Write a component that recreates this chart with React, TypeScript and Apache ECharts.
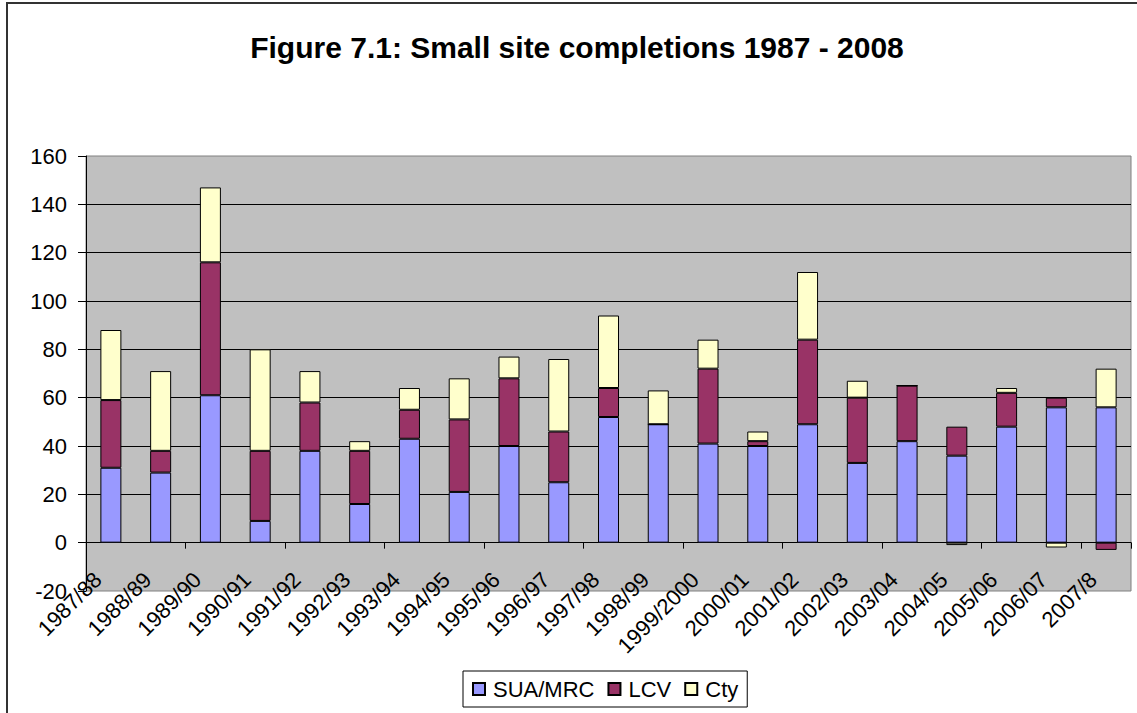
import React, { useEffect, useRef } from "react";
import * as echarts from "echarts";

const categories = [
  "1987/88", "1988/89", "1989/90", "1990/91", "1991/92", "1992/93", "1993/94",
  "1994/95", "1995/96", "1996/97", "1997/98", "1998/99", "1999/2000", "2000/01",
  "2001/02", "2002/03", "2003/04", "2004/05", "2005/06", "2006/07", "2007/8",
];
const suaMrc = [31, 29, 61, 9, 38, 16, 43, 21, 40, 25, 52, 49, 41, 40, 49, 33, 42, 36, 48, 56, 56];
const lcv = [28, 9, 55, 29, 20, 22, 12, 30, 28, 21, 12, 0, 31, 2, 35, 27, 23, 12, 14, 4, -3];
const cty = [29, 33, 31, 42, 13, 4, 9, 17, 9, 30, 30, 14, 12, 4, 28, 7, 0, -1, 2, -2, 16];

const titleText = "Figure 7.1: Small site completions 1987 - 2008";
const FONT = "'Liberation Sans', Arial, sans-serif";

export default function App() {
  const ref = useRef<HTMLDivElement>(null);
  useEffect(() => {
    if (!ref.current) return;
    const chart = echarts.init(ref.current, null, { renderer: "svg" });
    const barStyle = (color: string) => ({ color, borderColor: "#000", borderWidth: 1 });
    const labelShift = 13;
    chart.setOption({
      animation: false,
      backgroundColor: "#fff",
      textStyle: { fontFamily: FONT },
      graphic: [
        {
          type: "rect",
          shape: { x: 7, y: 3, width: 1150, height: 730 },
          style: { fill: "none", stroke: "#333", lineWidth: 2 },
          silent: true,
        },
        {
          type: "text",
          x: 577,
          y: 47,
          style: {
            text: titleText,
            fill: "#000",
            fontSize: 30,
            fontWeight: "bold",
            fontFamily: FONT,
            align: "center",
            verticalAlign: "middle",
          },
        },
      ],
      grid: [
        {
          left: 86,
          right: 6,
          top: 156,
          bottom: 122,
          show: true,
          backgroundColor: "#C0C0C0",
          borderColor: "#808080",
          borderWidth: 1,
          containLabel: false,
        },
        {
          left: 86 - labelShift,
          right: 6 + labelShift,
          top: 156,
          bottom: 122,
          show: false,
          containLabel: false,
        },
      ],
      legend: {
        left: 463,
        top: 671,
        orient: "horizontal",
        itemWidth: 12,
        itemHeight: 12,
        itemGap: 13,
        padding: [7, 9, 7, 9],
        borderColor: "#000",
        borderWidth: 1,
        backgroundColor: "#fff",
        icon: "rect",
        textStyle: { fontSize: 22, color: "#000", fontFamily: FONT, padding: [0, 0, 0, 3] },
        data: ["SUA/MRC", "LCV", "Cty"],
      },
      xAxis: [
        {
          type: "category",
          gridIndex: 0,
          data: categories,
          position: "bottom",
          axisLine: { show: true, onZero: true, lineStyle: { color: "#000", width: 1 } },
          axisTick: { show: true, length: 6, lineStyle: { color: "#000" } },
          axisLabel: { show: false },
          splitLine: { show: false },
        },
        {
          type: "category",
          gridIndex: 1,
          data: categories,
          position: "bottom",
          axisLine: { show: false, onZero: false },
          axisTick: { show: false },
          axisLabel: {
            rotate: 45,
            interval: 0,
            margin: -15,
            fontSize: 22,
            color: "#000",
            fontFamily: FONT,
          },
          splitLine: { show: false },
        },
      ],
      yAxis: [
        {
          type: "value",
          gridIndex: 0,
          min: -20,
          max: 160,
          interval: 20,
          axisLine: { show: true, lineStyle: { color: "#000" } },
          axisTick: { show: true, length: 8, lineStyle: { color: "#000" } },
          axisLabel: { fontSize: 22, color: "#000", margin: 19, fontFamily: FONT },
          splitLine: {
            show: true,
            showMinLine: false,
            showMaxLine: false,
            lineStyle: { color: "#000", width: 1 },
          },
        },
        {
          type: "value",
          gridIndex: 1,
          min: -20,
          max: 160,
          interval: 20,
          show: false,
          splitLine: { show: false },
        },
      ],
      series: [
        { name: "SUA/MRC", type: "bar", stack: "total", data: suaMrc, barWidth: 21, itemStyle: barStyle("#9999FF") },
        { name: "LCV", type: "bar", stack: "total", data: lcv, barWidth: 21, itemStyle: barStyle("#993366") },
        { name: "Cty", type: "bar", stack: "total", data: cty, barWidth: 21, itemStyle: barStyle("#FFFFCC") },
      ],
    });
    return () => chart.dispose();
  }, []);
  return (
    <div
      ref={ref}
      style={{ position: "fixed", left: 0, top: 0, width: 1137, height: 713 }}
    />
  );
}
